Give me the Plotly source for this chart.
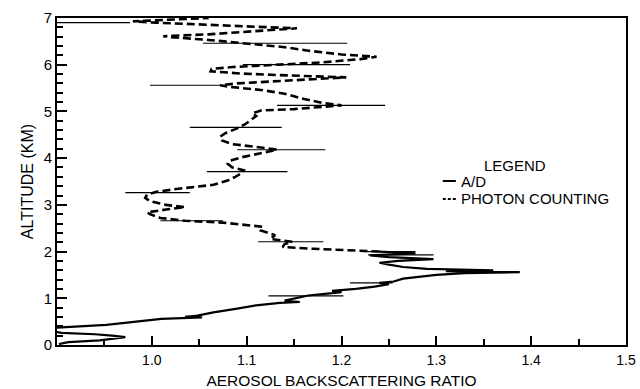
import plotly.graph_objects as go

# A/D channel profile (altitude in km, backscattering ratio)
ad_alt = [0.02, 0.06, 0.10, 0.14, 0.17, 0.20, 0.23, 0.26, 0.30, 0.34, 0.37,
          0.43, 0.50, 0.56, 0.59, 0.60, 0.63, 0.70, 0.78, 0.85, 0.90, 0.92,
          0.95, 1.00, 1.06, 1.10, 1.13, 1.16, 1.20, 1.25, 1.30, 1.33, 1.36,
          1.42, 1.46, 1.50, 1.54, 1.56, 1.58, 1.60, 1.63, 1.67, 1.72, 1.76,
          1.80, 1.84, 1.88, 1.92, 1.96, 2.00]
ad_ratio = [0.902, 0.912, 0.945, 0.963, 0.972, 0.958, 0.940, 0.905, 0.890, 0.890, 0.900,
            0.952, 0.980, 1.010, 1.053, 1.035, 1.048, 1.065, 1.090, 1.110, 1.135, 1.156,
            1.140, 1.150, 1.165, 1.185, 1.200, 1.190, 1.215, 1.235, 1.250, 1.240, 1.255,
            1.265, 1.280, 1.300, 1.330, 1.388, 1.310, 1.360, 1.290, 1.265, 1.250, 1.240,
            1.260, 1.297, 1.250, 1.230, 1.278, 1.240]

# Photon counting channel profile
pc_alt = [2.00, 2.03, 2.06, 2.10, 2.16, 2.21, 2.27, 2.35, 2.45, 2.53, 2.58, 2.62,
          2.66, 2.72, 2.80, 2.84, 2.90, 2.95, 3.00, 3.08, 3.15, 3.22, 3.28, 3.35,
          3.43, 3.52, 3.60, 3.68, 3.74, 3.80, 3.88, 3.95, 4.02, 4.10, 4.18, 4.24,
          4.30, 4.38, 4.46, 4.54, 4.62, 4.72, 4.82, 4.90, 4.96, 5.02, 5.05, 5.10,
          5.13, 5.18, 5.28, 5.38, 5.46, 5.52, 5.56, 5.60, 5.65, 5.70, 5.73, 5.77,
          5.81, 5.86, 5.91, 5.95, 6.00, 6.05, 6.12, 6.17, 6.22, 6.30, 6.38, 6.46,
          6.53, 6.59, 6.61, 6.65, 6.70, 6.74, 6.78, 6.82, 6.86, 6.90, 6.93, 6.96, 7.00]
pc_ratio = [1.240, 1.200, 1.170, 1.138, 1.140, 1.148, 1.125, 1.130, 1.115, 1.117, 1.095, 1.075,
            1.035, 1.009, 0.998, 0.995, 1.015, 1.035, 1.015, 0.998, 0.993, 0.995, 1.005, 1.030,
            1.065, 1.080, 1.088, 1.095, 1.097, 1.085, 1.080, 1.083, 1.095, 1.112, 1.132, 1.110,
            1.085, 1.074, 1.072, 1.078, 1.088, 1.098, 1.105, 1.110, 1.106, 1.115, 1.150, 1.185,
            1.200, 1.180, 1.158, 1.140, 1.115, 1.085, 1.072, 1.090, 1.130, 1.170, 1.205, 1.145,
            1.095, 1.062, 1.063, 1.085, 1.130, 1.180, 1.220, 1.237, 1.200, 1.165, 1.138, 1.100,
            1.060, 1.020, 1.012, 1.060, 1.100, 1.130, 1.153, 1.100, 1.045, 1.005, 0.980, 1.020, 1.060]

# Horizontal uncertainty bars: altitude, lower and upper ratio
bar_alt = [1.05, 1.33, 1.93, 2.00, 2.21, 2.66, 3.26, 3.71, 4.18, 4.66, 5.13, 5.56, 6.00, 6.46, 6.90]
bar_lo = [1.123, 1.209, 1.228, 1.223, 1.112, 1.009, 0.972, 1.058, 1.090, 1.040, 1.132, 0.998, 1.096, 1.054, 0.900]
bar_hi = [1.202, 1.254, 1.297, 1.278, 1.181, 1.075, 1.040, 1.143, 1.183, 1.137, 1.246, 1.072, 1.209, 1.206, 0.977]

x_ticks = [1.0, 1.1, 1.2, 1.3, 1.4, 1.5]
x_labels = ["1.0", "1.1", "1.2", "1.3", "1.4", "1.5"]
x_minor = [0.95, 1.05, 1.15, 1.25, 1.35, 1.45]
y_ticks = [0, 1, 2, 3, 4, 5, 6, 7]
y_minor = [v + f for v in range(7) for f in (0.2, 0.4, 0.6, 0.8)]

series_names = ["A/D", "PHOTON COUNTING"]

FONT = "Liberation Sans, Arial, sans-serif"
SOLID = dict(color="black", width=2.2)
DASHED = dict(color="black", width=2.6, dash="8px,4px")

bar_mid = [(a + b) / 2 for a, b in zip(bar_lo, bar_hi)]
bar_half = [(b - a) / 2 for a, b in zip(bar_lo, bar_hi)]

fig = go.Figure()

fig.add_trace(go.Scatter(
    x=bar_mid, y=bar_alt, mode="markers",
    marker=dict(size=1, color="rgba(0,0,0,0)"),
    error_x=dict(type="data", array=bar_half, symmetric=True,
                 width=0, thickness=1.2, color="black"),
    showlegend=False, hoverinfo="skip",
))

fig.add_trace(go.Scatter(
    x=ad_ratio, y=ad_alt, mode="lines", name=series_names[0],
    line=SOLID, showlegend=False,
))

fig.add_trace(go.Scatter(
    x=pc_ratio, y=pc_alt, mode="lines", name=series_names[1],
    line=DASHED, showlegend=False,
))

# Hand-set key block inside the plot frame (paper coordinates)
key_x0, key_x1, key_text_x = 0.678, 0.701, 0.706
key_rows = [0.5015, 0.4465]
key_styles = [dict(color="black", width=2), dict(color="black", width=2, dash="3px,2px")]

annotations = [dict(
    text="LEGEND", x=0.805, y=0.550, xref="paper", yref="paper",
    xanchor="center", yanchor="middle", showarrow=False,
    font=dict(size=15, family=FONT, color="black"),
)]
shapes = []
for name, ky, style in zip(series_names, key_rows, key_styles):
    shapes.append(dict(type="line", xref="paper", yref="paper",
                       x0=key_x0, x1=key_x1, y0=ky, y1=ky, line=style))
    annotations.append(dict(
        text=name, x=key_text_x, y=ky, xref="paper", yref="paper",
        xanchor="left", yanchor="middle", showarrow=False,
        font=dict(size=15, family=FONT, color="black"),
    ))

fig.update_layout(
    width=640, height=389,
    margin=dict(l=57, r=14, t=18, b=44),
    paper_bgcolor="white", plot_bgcolor="white",
    font=dict(family=FONT, size=14, color="black"),
    showlegend=False,
    annotations=annotations,
    shapes=shapes,
)

fig.update_xaxes(
    range=[0.9, 1.5], tickmode="array", tickvals=x_ticks, ticktext=x_labels,
    ticks="inside", ticklen=9, tickwidth=2.2, tickcolor="black", layer="above traces",
    minor=dict(tickmode="array", tickvals=x_minor, ticks="inside",
               ticklen=6, tickwidth=1.8, tickcolor="black"),
    showline=True, linecolor="black", linewidth=1.6, mirror=True,
    showgrid=False, zeroline=False, automargin=False,
    tickfont=dict(size=14), ticklabelstandoff=1,
    title=dict(text="AEROSOL BACKSCATTERING RATIO", font=dict(size=15.5), standoff=15),
)

fig.update_yaxes(
    range=[0, 7], tickmode="array", tickvals=y_ticks,
    ticks="inside", ticklen=10, tickwidth=2.2, tickcolor="black", layer="above traces",
    minor=dict(tickmode="array", tickvals=y_minor, ticks="inside",
               ticklen=6, tickwidth=1.8, tickcolor="black"),
    showline=True, linecolor="black", linewidth=1.6, mirror=True,
    showgrid=False, zeroline=False, automargin=False,
    tickfont=dict(size=15),
    title=dict(text="ALTITUDE (KM)", font=dict(size=16), standoff=6),
)

fig.write_html("out.html")
